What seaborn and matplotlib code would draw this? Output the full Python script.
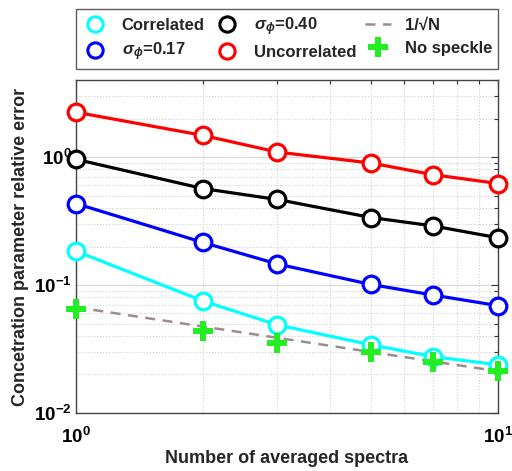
import numpy as np
import pandas as pd
import matplotlib
matplotlib.use("Agg")
import matplotlib.pyplot as plt
import seaborn as sns
from matplotlib.lines import Line2D
from matplotlib.ticker import LogLocator, FuncFormatter, NullFormatter

sns.set_theme(style="white")
plt.rcParams['font.family'] = ['Liberation Sans', 'DejaVu Sans']
plt.rcParams['font.weight'] = 'bold'
plt.rcParams['mathtext.fontset'] = 'custom'
plt.rcParams['mathtext.rm'] = 'Liberation Sans:bold'
plt.rcParams['mathtext.it'] = 'Liberation Sans:bold:italic'
plt.rcParams['mathtext.bf'] = 'Liberation Sans:bold'

# ---- data ----
N = [1, 2, 3, 5, 7, 10]
correlated = [0.184, 0.075, 0.0488, 0.0341, 0.0276, 0.0238]
sigma_017 = [0.433, 0.215, 0.146, 0.101, 0.0836, 0.069]
sigma_040 = [0.96, 0.567, 0.466, 0.337, 0.290, 0.234]
uncorrelated = [2.24, 1.476, 1.094, 0.898, 0.729, 0.621]
no_speckle = [0.065, 0.044, 0.0351, 0.0299, 0.0250, 0.0211]
ref_N = [1, 10]
ref_vals = [0.067, 0.0212]

labels = ["Correlated", r"$\sigma_\phi$=0.17", r"$\sigma_\phi$=0.40",
          "Uncorrelated", "1/\u221aN", "No speckle"]

fig = plt.figure(figsize=(5.12, 4.71), dpi=100)
ax = fig.add_axes([76/512, 1-413/471, (498-76)/512, (413-80)/471])

series = [
    (correlated, "#00ffff"),
    (sigma_017, "#0000ff"),
    (sigma_040, "#000000"),
    (uncorrelated, "#ff0000"),
]

# reference 1/sqrt(N) line
sns.lineplot(x=ref_N, y=ref_vals, ax=ax, color="#9c8c8c", lw=1.8,
             linestyle=(0, (4, 3)), zorder=2)

for vals, col in series:
    sns.lineplot(x=N, y=vals, ax=ax, color=col, lw=2.3, zorder=3,
                 marker='o', markersize=12, markerfacecolor='white',
                 markeredgecolor=col, markeredgewidth=2.3, clip_on=False)

sns.lineplot(x=N, y=no_speckle, ax=ax, color="#22ee22", lw=0, zorder=5,
             marker='P', markersize=15, markeredgewidth=0, clip_on=False)

ax.set_xscale('log')
ax.set_yscale('log')
ax.set_xlim(1, 10)
ax.set_ylim(0.01, 4)

def fmt(v, pos):
    e = int(round(np.log10(v)))
    return r"$10^{%d}$" % e

ax.xaxis.set_major_locator(LogLocator(base=10, numticks=10))
ax.yaxis.set_major_locator(LogLocator(base=10, numticks=10))
ax.xaxis.set_minor_locator(LogLocator(base=10, subs=np.arange(2, 10), numticks=20))
ax.yaxis.set_minor_locator(LogLocator(base=10, subs=np.arange(2, 10), numticks=20))
ax.xaxis.set_major_formatter(FuncFormatter(fmt))
ax.yaxis.set_major_formatter(FuncFormatter(fmt))
ax.xaxis.set_minor_formatter(NullFormatter())
ax.yaxis.set_minor_formatter(NullFormatter())

ax.tick_params(which='both', direction='in', top=True, right=True,
               colors='#333333', labelcolor='black', labelsize=13.5, width=0.8)
ax.tick_params(which='major', length=5)
ax.tick_params(which='minor', length=3)
ax.tick_params(axis='y', which='major', pad=3)
ax.tick_params(axis='x', which='major', pad=10)

ax.grid(which='major', color='#d8d8d8', lw=0.8, linestyle='-')
ax.grid(which='minor', color='#d0d0d0', lw=0.8, linestyle=':')
ax.set_axisbelow(True)
for s in ax.spines.values():
    s.set_color('#444444')
    s.set_linewidth(1.0)

ax.set_xlabel("Number of averaged spectra", fontsize=13, fontweight='bold', labelpad=2)
ax.set_ylabel("Concetration parameter relative error", fontsize=13, fontweight='bold', labelpad=4)

handles = [
    Line2D([], [], lw=0, marker='o', markersize=11, markerfacecolor='white',
           markeredgecolor="#00ffff", markeredgewidth=2.2),
    Line2D([], [], lw=0, marker='o', markersize=11, markerfacecolor='white',
           markeredgecolor="#0000ff", markeredgewidth=2.2),
    Line2D([], [], lw=0, marker='o', markersize=11, markerfacecolor='white',
           markeredgecolor="#000000", markeredgewidth=2.2),
    Line2D([], [], lw=0, marker='o', markersize=11, markerfacecolor='white',
           markeredgecolor="#ff0000", markeredgewidth=2.2),
    Line2D([], [], color="#9c8c8c", lw=1.8, linestyle=(0, (4, 3))),
    Line2D([], [], lw=0, marker='P', markersize=15, color="#22ee22", markeredgewidth=0),
]
leg = fig.legend(handles, labels, ncol=3, loc='lower left', mode='expand',
                 bbox_to_anchor=(76/512, 1-69/471, (498-76)/512, (69-9)/471),
                 fontsize=12, frameon=True, fancybox=False, edgecolor='#333333',
                 handlelength=1.6, handletextpad=0.8, columnspacing=0.8,
                 borderaxespad=0, borderpad=0.35, labelspacing=0.45)
leg.get_frame().set_linewidth(1.0)
for t in leg.get_texts():
    t.set_fontweight('bold')

fig.savefig("out.png", dpi=100)
